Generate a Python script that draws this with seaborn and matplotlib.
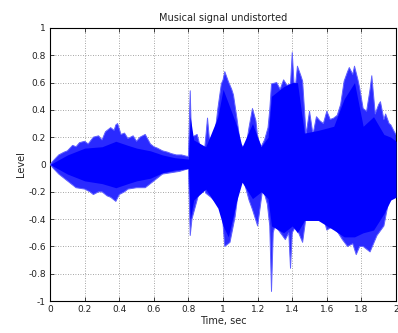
import numpy as np
import pandas as pd
import seaborn as sns
import matplotlib
matplotlib.use("Agg")
import matplotlib.pyplot as plt

# upper envelope of the waveform (time in sec, level)
t_up = [0, 0.02, 0.05, 0.08, 0.1, 0.13, 0.15, 0.17, 0.2, 0.22, 0.25, 0.28, 0.3, 0.32,
        0.35, 0.37, 0.38, 0.39, 0.41, 0.43, 0.45, 0.48, 0.5, 0.52, 0.55, 0.58, 0.6,
        0.62, 0.65, 0.68, 0.7, 0.73, 0.76, 0.79, 0.8, 0.81, 0.815, 0.82, 0.85, 0.87,
        0.89, 0.9, 0.91, 0.92, 0.94, 0.96, 0.97, 0.99, 1.0, 1.01, 1.03, 1.05, 1.06,
        1.08, 1.1, 1.13, 1.15, 1.17, 1.19, 1.2, 1.22, 1.24, 1.26, 1.27, 1.28, 1.31,
        1.33, 1.35, 1.37, 1.39, 1.4, 1.41, 1.42, 1.43, 1.45, 1.46, 1.48, 1.5, 1.52,
        1.54, 1.56, 1.58, 1.6, 1.62, 1.64, 1.66, 1.68, 1.7, 1.72, 1.73, 1.75, 1.76,
        1.78, 1.79, 1.81, 1.83, 1.85, 1.86, 1.88, 1.9, 1.91, 1.93, 1.94, 1.96, 1.97,
        1.99, 2.0]
upper = [0, 0.03, 0.07, 0.09, 0.1, 0.14, 0.13, 0.16, 0.17, 0.15, 0.2, 0.21, 0.18, 0.24,
         0.27, 0.25, 0.29, 0.3, 0.22, 0.23, 0.19, 0.21, 0.17, 0.2, 0.22, 0.15, 0.13,
         0.12, 0.1, 0.09, 0.08, 0.07, 0.07, 0.06, 0.06, 0.54, 0.3, 0.2, 0.22, 0.12,
         0.07, 0.2, 0.34, 0.2, 0.15, 0.3, 0.41, 0.59, 0.62, 0.68, 0.61, 0.55, 0.51,
         0.34, 0.15, 0.11, 0.27, 0.41, 0.32, 0.2, 0.13, 0.18, 0.27, 0.4, 0.59, 0.6,
         0.55, 0.62, 0.58, 0.59, 0.82, 0.6, 0.59, 0.72, 0.65, 0.61, 0.22, 0.39, 0.22,
         0.35, 0.32, 0.3, 0.39, 0.33, 0.34, 0.36, 0.44, 0.61, 0.68, 0.71, 0.66, 0.72,
         0.62, 0.56, 0.41, 0.39, 0.55, 0.65, 0.37, 0.44, 0.46, 0.33, 0.37, 0.3, 0.29,
         0.24, 0.22]

# lower envelope of the waveform
t_lo = [0, 0.02, 0.05, 0.08, 0.1, 0.13, 0.15, 0.2, 0.23, 0.25, 0.28, 0.3, 0.33, 0.35,
        0.38, 0.4, 0.43, 0.45, 0.5, 0.55, 0.6, 0.65, 0.7, 0.75, 0.8, 0.81, 0.82, 0.85,
        0.88, 0.9, 0.93, 0.97, 0.995, 1.01, 1.04, 1.07, 1.1, 1.12, 1.15, 1.17, 1.2,
        1.23, 1.256, 1.27, 1.28, 1.29, 1.3, 1.32, 1.36, 1.38, 1.39, 1.4, 1.42, 1.46,
        1.49, 1.52, 1.56, 1.6, 1.64, 1.69, 1.72, 1.75, 1.77, 1.79, 1.81, 1.85, 1.89,
        1.93, 1.97, 2.0]
lower = [0, -0.03, -0.07, -0.1, -0.12, -0.15, -0.17, -0.18, -0.2, -0.22, -0.2, -0.2,
         -0.23, -0.24, -0.27, -0.22, -0.2, -0.18, -0.17, -0.17, -0.12, -0.07, -0.06,
         -0.05, -0.03, -0.52, -0.4, -0.26, -0.12, -0.21, -0.24, -0.29, -0.36, -0.6,
         -0.57, -0.38, -0.07, -0.12, -0.26, -0.33, -0.45, -0.17, -0.29, -0.45, -0.93,
         -0.5, -0.45, -0.48, -0.55, -0.5, -0.76, -0.5, -0.45, -0.57, -0.29, -0.38,
         -0.29, -0.48, -0.45, -0.55, -0.6, -0.58, -0.66, -0.6, -0.6, -0.64, -0.52,
         -0.45, -0.19, -0.21]

# dense core of the waveform (solid blue region)
t_core = [0, 0.1, 0.2, 0.3, 0.38, 0.45, 0.5, 0.58, 0.65, 0.72, 0.8, 0.81, 0.83, 0.9,
          0.97, 1.0, 1.03, 1.08, 1.11, 1.17, 1.22, 1.26, 1.28, 1.35, 1.4, 1.43, 1.47,
          1.55, 1.64, 1.7, 1.76, 1.81, 1.87, 1.93, 1.97, 2.0]
core_up = [0, 0.07, 0.12, 0.13, 0.17, 0.14, 0.12, 0.1, 0.07, 0.05, 0.04, 0.35, 0.18,
           0.13, 0.35, 0.55, 0.45, 0.28, 0.13, 0.3, 0.13, 0.2, 0.5, 0.57, 0.6, 0.6,
           0.23, 0.25, 0.28, 0.48, 0.6, 0.28, 0.35, 0.22, 0.2, 0.17]
core_lo = [0, -0.07, -0.12, -0.14, -0.17, -0.14, -0.12, -0.1, -0.06, -0.04, -0.03,
           -0.4, -0.26, -0.18, -0.32, -0.45, -0.53, -0.26, -0.13, -0.25, -0.2, -0.25,
           -0.45, -0.5, -0.45, -0.5, -0.41, -0.41, -0.48, -0.53, -0.53, -0.5, -0.48,
           -0.36, -0.26, -0.24]

title = "Musical signal undistorted"
x_ticks = [0, 0.2, 0.4, 0.6, 0.8, 1, 1.2, 1.4, 1.6, 1.8, 2]
y_ticks = [-1, -0.8, -0.6, -0.4, -0.2, 0, 0.2, 0.4, 0.6, 0.8, 1]

sns.set_theme(style="ticks")
plt.rcParams["font.family"] = ["DejaVu Sans"]

fig = plt.figure(figsize=(3.98, 3.33), dpi=100)
ax = fig.add_axes([0.126, 0.096, 0.869, 0.82])

env = pd.DataFrame({"t": t_up, "v": upper})
env_lo = pd.DataFrame({"t": t_lo, "v": lower})

# outer fringe, slightly lighter blue
ax.fill(t_up + t_lo[::-1], upper + lower[::-1], color="#2a2aff", lw=0, zorder=2)
sns.lineplot(data=env, x="t", y="v", color="#6060ff", lw=0.7, ax=ax, zorder=3)
sns.lineplot(data=env_lo, x="t", y="v", color="#6060ff", lw=0.7, ax=ax, zorder=3)
# solid core
ax.fill_between(t_core, core_lo, core_up, color="#0000ff", lw=0, zorder=4)

ax.set_xlim(0, 2)
ax.set_ylim(-1, 1)
ax.set_xticks(x_ticks)
ax.set_yticks(y_ticks)
ax.set_xticklabels([f"{v:g}" for v in x_ticks])
ax.set_yticklabels([f"{v:g}" for v in y_ticks])
ax.grid(True, linestyle=(0, (1, 2)), color="#888888", lw=0.6)
ax.tick_params(direction="in", length=3, width=0.6, labelsize=6.5,
               colors="#222222", top=True, right=True, pad=3)
for s in ax.spines.values():
    s.set_linewidth(0.8)
    s.set_color("#000000")
ax.set_xlabel("Time, sec", fontsize=7, color="#222222", labelpad=1)
ax.set_ylabel("Level", fontsize=7, color="#222222", labelpad=2)
ax.set_title(title, fontsize=7, color="#222222", pad=5)

fig.savefig("out.png", dpi=100)
